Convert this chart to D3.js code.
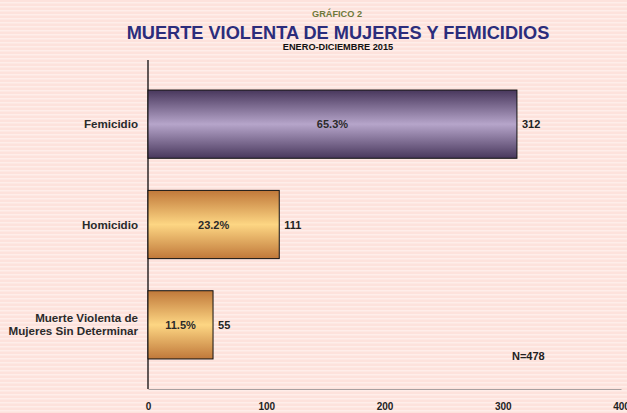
<!DOCTYPE html>
<html>
<head>
<meta charset="utf-8">
<script src="https://cdn.jsdelivr.net/npm/d3@7"></script>
<style>
    body { margin: 0; padding: 0; }
    svg { display: block; font-family: "Liberation Sans", Arial, sans-serif; }
</style>
</head>
<body>
<script>
var categories = ["Femicidio", "Homicidio", "Muerte Violenta de|Mujeres Sin Determinar"];
var values = [312, 111, 55];
var percents = ["65.3%", "23.2%", "11.5%"];
var xTicks = [0, 100, 200, 300, 400];

var width = 627,
    height = 413,
    plotLeft = 148,
    plotRight = 621,
    plotTop = 74,
    plotBottom = 375,
    axisY = 389;

var svg = d3.select("body").append("svg")
    .attr("width", width)
    .attr("height", height);

var defs = svg.append("defs");

// striped background
var pat = defs.append("pattern")
    .attr("id", "stripes")
    .attr("width", 8)
    .attr("height", 4)
    .attr("patternUnits", "userSpaceOnUse");
pat.append("rect").attr("width", 8).attr("height", 4).attr("fill", "#fde2dc");
pat.append("rect").attr("y", 2).attr("width", 8).attr("height", 1.5).attr("fill", "#feeeea");

function makeGradient(id, edge, mid) {
    var g = defs.append("linearGradient")
        .attr("id", id)
        .attr("x1", 0).attr("y1", 0).attr("x2", 0).attr("y2", 1);
    g.append("stop").attr("offset", "0%").attr("stop-color", edge);
    g.append("stop").attr("offset", "50%").attr("stop-color", mid);
    g.append("stop").attr("offset", "100%").attr("stop-color", edge);
}
makeGradient("purple", "#48375c", "#b6a5ca");
makeGradient("orange", "#c0783a", "#fdd683");

svg.append("rect")
    .attr("width", width)
    .attr("height", height)
    .attr("fill", "url(#stripes)");

// titles
svg.append("text")
    .attr("x", 337).attr("y", 17)
    .attr("text-anchor", "middle")
    .attr("font-size", "9.2px").attr("font-weight", "bold")
    .attr("fill", "#6e7a3c")
    .text("GRÁFICO 2");

svg.append("text")
    .attr("x", 338).attr("y", 38.5)
    .attr("text-anchor", "middle")
    .attr("font-size", "18.2px").attr("font-weight", "bold")
    .attr("fill", "#2b2d7c")
    .text("MUERTE VIOLENTA DE MUJERES Y FEMICIDIOS");

svg.append("text")
    .attr("x", 338).attr("y", 49.5)
    .attr("text-anchor", "middle")
    .attr("font-size", "9.2px").attr("font-weight", "bold")
    .attr("fill", "#111")
    .text("ENERO-DICIEMBRE 2015");

var x = d3.scaleLinear()
    .domain([0, 400])
    .range([plotLeft, plotRight]);

var y = d3.scaleBand()
    .domain(categories)
    .range([plotTop, plotBottom])
    .paddingInner(0.32)
    .paddingOuter(0.16);

// x axis
var xAxis = svg.append("g")
    .attr("transform", "translate(0," + axisY + ")")
    .call(d3.axisBottom(x).tickValues(xTicks).tickSize(0).tickPadding(14));
xAxis.select(".domain").attr("stroke", "#a8a0a0").attr("stroke-width", 1);
xAxis.selectAll("text")
    .attr("font-size", "10px").attr("font-weight", "bold")
    .attr("font-family", "Liberation Sans, Arial, sans-serif")
    .attr("fill", "#222");

// y axis line
svg.append("line")
    .attr("x1", plotLeft).attr("x2", plotLeft)
    .attr("y1", 60).attr("y2", axisY)
    .attr("stroke", "#3a3434").attr("stroke-width", 1.6);

var rows = categories.map(function (c, i) {
    return { cat: c, value: values[i], pct: percents[i], idx: i };
});

svg.selectAll(".bar")
    .data(rows)
    .enter()
    .append("rect")
    .attr("class", "bar")
    .attr("x", x(0))
    .attr("y", function (d) { return y(d.cat); })
    .attr("width", function (d) { return x(d.value) - x(0); })
    .attr("height", y.bandwidth())
    .attr("fill", function (d) { return d.idx === 0 ? "url(#purple)" : "url(#orange)"; })
    .attr("stroke", "#111")
    .attr("stroke-width", 1);

// percent labels
svg.selectAll(".pct")
    .data(rows)
    .enter()
    .append("text")
    .attr("class", "pct")
    .attr("x", function (d) { return (x(0) + x(d.value)) / 2; })
    .attr("y", function (d) { return y(d.cat) + y.bandwidth() / 2 + 4; })
    .attr("text-anchor", "middle")
    .attr("font-size", "11px").attr("font-weight", "bold")
    .attr("fill", "#2a2a2a")
    .text(function (d) { return d.pct; });

// value labels
svg.selectAll(".val")
    .data(rows)
    .enter()
    .append("text")
    .attr("class", "val")
    .attr("x", function (d) { return x(d.value) + 5; })
    .attr("y", function (d) { return y(d.cat) + y.bandwidth() / 2 + 4; })
    .attr("font-size", "11px").attr("font-weight", "bold")
    .attr("fill", "#222")
    .text(function (d) { return d.value; });

// category labels
svg.selectAll(".cat")
    .data(rows)
    .enter()
    .append("text")
    .attr("class", "cat")
    .attr("x", 138)
    .attr("y", function (d) {
        var n = d.cat.split("|").length;
        return y(d.cat) + y.bandwidth() / 2 + 4 - (n - 1) * 7;
    })
    .attr("text-anchor", "end")
    .attr("font-size", "11.6px").attr("font-weight", "bold")
    .attr("fill", "#2a2a2a")
    .each(function (d) {
        var t = d3.select(this);
        d.cat.split("|").forEach(function (line, i) {
            t.append("tspan")
                .attr("x", 138)
                .attr("dy", i === 0 ? 0 : 13.5)
                .text(line);
        });
    });

svg.append("text")
    .attr("x", 512).attr("y", 360)
    .attr("font-size", "11px").attr("font-weight", "bold")
    .attr("fill", "#222")
    .text("N=478");
</script>
</body>
</html>
